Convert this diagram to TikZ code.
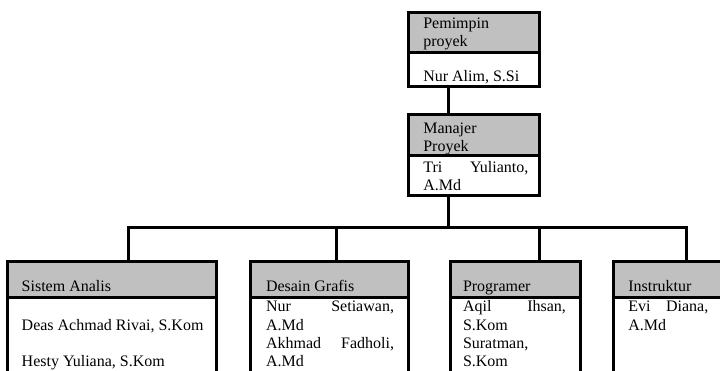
\documentclass[tikz,border=0pt]{standalone}
\usepackage{fontspec}
\setmainfont{Liberation Serif}
\definecolor{headgray}{RGB}{192,192,192}
\tikzset{
  head/.style={draw, fill=headgray, line width=3pt, inner sep=0pt, outer sep=0pt},
  body/.style={draw, fill=white, line width=3pt, inner sep=0pt, outer sep=0pt},
  conn/.style={line width=3pt, line join=miter},
  lbl/.style={anchor=base west, inner sep=0pt, outer sep=0pt,
    font=\fontsize{16}{18.3}\selectfont}
}
\begin{document}
\begin{tikzpicture}[x=1pt, y=-1pt]
\clip (0,0) rectangle (720,370);

% project leader
\node[head, minimum width=130.4pt, minimum height=39.8pt] (pmh) at (474,32.4) {};
\node[body, minimum width=130.4pt, minimum height=33.9pt, anchor=north] (pmb) at (pmh.south) {};
% project manager
\node[head, minimum width=130.4pt, minimum height=40.5pt] (mgh) at (474,134.75) {};
\node[body, minimum width=130.4pt, minimum height=40.2pt, anchor=north] (mgb) at (mgh.south) {};

% team boxes
\node[head, minimum width=209pt, minimum height=35.5pt] (sah) at (112,279.25) {};
\node[body, minimum width=209pt, minimum height=83pt, anchor=north] (sab) at (sah.south) {};
\node[head, minimum width=157.2pt, minimum height=35.5pt] (dgh) at (329.4,279.25) {};
\node[body, minimum width=157.2pt, minimum height=83pt, anchor=north] (dgb) at (dgh.south) {};
\node[head, minimum width=130pt, minimum height=35.5pt] (prh) at (515,279.25) {};
\node[body, minimum width=130pt, minimum height=83pt, anchor=north] (prb) at (prh.south) {};
\node[head, minimum width=116.5pt, minimum height=35.5pt] (inh) at (671.75,279.25) {};
\node[body, minimum width=116.5pt, minimum height=83pt, anchor=north] (inb) at (inh.south) {};

% connector end points
\coordinate (c1) at ([xshift=39.5pt]pmb.south west);
\coordinate (c2) at ([xshift=39.5pt]mgh.north west);
\coordinate (c3) at ([xshift=39.5pt]mgb.south west);
\coordinate (bus) at ([yshift=-32.3pt]c3);
\coordinate (d1) at ([xshift=16pt]sah.north);
\coordinate (d2) at ([xshift=6.6pt]dgh.north);
\coordinate (d3) at ([xshift=24.3pt]prh.north);
\coordinate (d4) at ([xshift=72.5pt]inh.north west);

\draw[conn] (c1) -- (c2);
\draw[conn] (c3) -- (bus);
\draw[conn] (d1) -- (d1 |- bus) -- (d4 |- bus) -- (d4);
\draw[conn] (d2 |- bus) -- (d2);
\draw[conn] (d3 |- bus) -- (d3);

% texts
\node[lbl] (p1) at (423.3,28.3) {Pemimpin};
\node[lbl] (p2) at (423.3,46) {proyek};
\node[lbl] (p3) at (423.3,81.7) {Nur Alim, S.Si};

\node[lbl] (m1) at (423.3,133) {Manajer};
\node[lbl] (m2) at (423.3,151) {Proyek};
\node[lbl] (m3) at (423.3,172) {\hbox to 105pt{Tri\hfill Yulianto,}};
\node[lbl] (m4) at (423.3,190) {A.Md};

\node[lbl] (s1) at (21.7,291) {Sistem Analis};
\node[lbl] (s2) at (21.7,330) {Deas Achmad Rivai, S.Kom};
\node[lbl] (s3) at (21.7,366.7) {Hesty Yuliana, S.Kom};

\node[lbl] (g1) at (266,291) {Desain Grafis};
\node[lbl] (g2) at (266,311.7) {\hbox to 128pt{Nur\hfill Setiawan,}};
\node[lbl] (g3) at (266,330) {A.Md};
\node[lbl] (g4) at (266,348.3) {\hbox to 128pt{Akhmad\hfill Fadholi,}};
\node[lbl] (g5) at (266,366.7) {A.Md};

\node[lbl] (r1) at (463,291) {Programer};
\node[lbl] (r2) at (463,311.7) {\hbox to 103pt{Aqil\hfill Ihsan,}};
\node[lbl] (r3) at (463,330) {S.Kom};
\node[lbl] (r4) at (463,348.3) {Suratman,};
\node[lbl] (r5) at (463,366.7) {S.Kom};

\node[lbl] (i1) at (628.3,291) {Instruktur};
\node[lbl] (i2) at (628.3,311.7) {\hbox to 80pt{Evi\hfill Diana,}};
\node[lbl] (i3) at (628.3,330) {A.Md};
\end{tikzpicture}
\end{document}
